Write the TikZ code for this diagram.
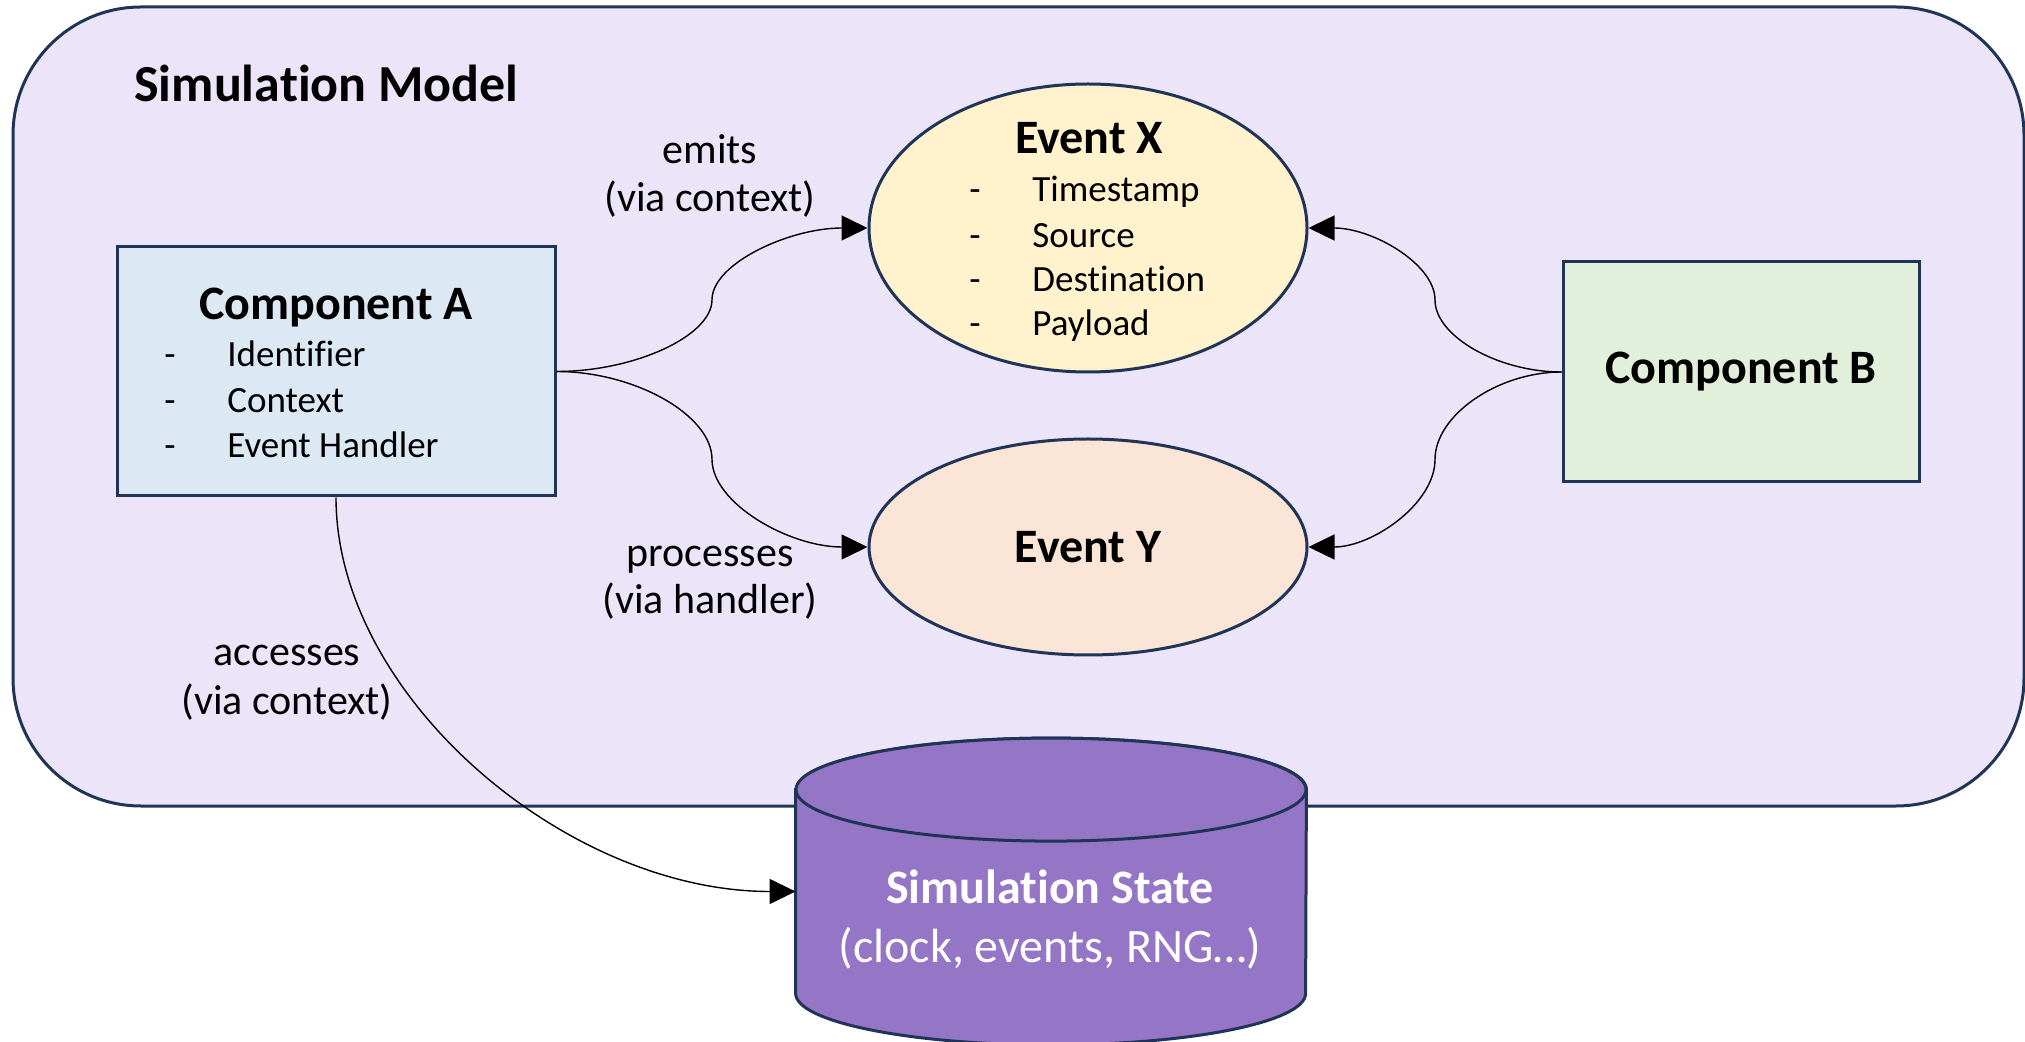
\documentclass[tikz,border=0pt]{standalone}
\usepackage{fontspec}
\setmainfont[Ligatures=NoCommon]{Carlito}
\usetikzlibrary{calc,arrows.meta,shapes.geometric}

\definecolor{framenavy}{HTML}{203458}
\definecolor{modelbg}{HTML}{ECE5F9}
\definecolor{compblue}{HTML}{DDE8F5}
\definecolor{compgreen}{HTML}{E2EFDA}
\definecolor{evyellow}{HTML}{FFF2CC}
\definecolor{evpeach}{HTML}{FBE5D6}
\definecolor{statepurple}{HTML}{9575C6}

\tikzstyle{model}=[rounded corners=64pt, draw=framenavy, line width=1.5pt, fill=modelbg]
\tikzstyle{comp}=[rectangle, draw=framenavy, line width=1.5pt, inner sep=0]
\tikzstyle{event}=[ellipse, draw=framenavy, line width=1.5pt, inner sep=0, minimum width=219pt]
\tikzstyle{store}=[draw=framenavy, line width=1.5pt, fill=statepurple]
\tikzstyle{head}=[font=\fontsize{24}{29}\selectfont\bfseries, inner sep=0]
\tikzstyle{item}=[font=\fontsize{18.5}{22}\selectfont, inner sep=0, anchor=base west]
\tikzstyle{lbl}=[font=\fontsize{21}{25}\selectfont, inner sep=0, anchor=base]
\tikzstyle{link}=[line width=0.7pt, -{Triangle[length=13pt, width=12.5pt]}]

\newcommand{\listentry}[1]{\makebox[31.5pt][l]{-}#1}

\begin{document}
\begin{tikzpicture}[x=0.5pt, y=-0.5pt]
\useasboundingbox (0,0) rectangle (2025,1042);

\draw [model] (13,7) rectangle (2024,806);
\node [anchor=base west, inner sep=0, font=\fontsize{26}{31}\selectfont\bfseries] (title) at (134,102) {Simulation Model};

\node [comp, fill=compblue,  minimum width=219pt, minimum height=124.5pt] (ca) at (336,371.5) {};
\node [comp, fill=compgreen, minimum width=178pt, minimum height=110pt, head] (cb) at (1741,372) {Component B};

\node [event, fill=evyellow, minimum height=144pt] (evx) at (1088,228) {};
\node [event, fill=evpeach,  minimum height=108pt, head] (evy) at (1088,547) {Event Y};

% component A
\node [head, anchor=base] (ca-title) at (336,320) {Component A};
\node [item] (ca-1) at (164,367) {\listentry{Identifier}};
\node [item] (ca-2) at (164,413) {\listentry{Context}};
\node [item] (ca-3) at (164,458) {\listentry{Event Handler}};

% event X
\node [head, anchor=base] (evx-title) at (1089,154) {Event X};
\node [item] (evx-1) at (969,202) {\listentry{Timestamp}};
\node [item] (evx-2) at (969,248) {\listentry{Source}};
\node [item] (evx-3) at (969,292) {\listentry{Destination}};
\node [item] (evx-4) at (969,336) {\listentry{Payload}};

% state store
\node [minimum width=255pt, minimum height=101.5pt, inner sep=0] (st) at (1051,891.5) {};
\draw [store] (st.north west) -- (st.south west)
  arc [start angle=180, end angle=360, x radius=127.5pt, y radius=25.75pt] -- (st.north east)
  arc [start angle=0, end angle=180, x radius=127.5pt, y radius=25.75pt] -- cycle;
\draw [store] (st.north) ellipse [x radius=127.5pt, y radius=25.75pt];
\node [head, anchor=base, text=white] (st-name) at (1050,903) {Simulation State};
\node [head, anchor=base, text=white, font=\fontsize{24}{29}\selectfont\mdseries] (st-info) at (1050,962) {(clock, events, RNG…)};

\node [lbl] (emits)     at (710,164) {emits};
\node [lbl] (emits-via) at (710,212) {(via context)};
\node [lbl] (proc)      at (710,567) {processes};
\node [lbl] (proc-via)  at (710,614) {(via handler)};
\node [lbl] (acc)       at (287,666) {accesses};
\node [lbl] (acc-via)   at (287,715) {(via context)};

\draw [link] (ca.east) .. controls +(78.5,0) and +(0,36) .. ($(ca.east)!.5!(evx.west)$)
  .. controls +(0,-36) and +(-78.5,0) .. (evx.west);
\draw [link] (ca.east) .. controls +(78.5,0) and +(0,-44) .. ($(ca.east)!.5!(evy.west)$)
  .. controls +(0,44) and +(-78.5,0) .. (evy.west);
\draw [link] (cb.west) .. controls +(-64,0) and +(0,36) .. ($(cb.west)!.5!(evx.east)$)
  .. controls +(0,-36) and +(64,0) .. (evx.east);
\draw [link] (cb.west) .. controls +(-64,0) and +(0,-44) .. ($(cb.west)!.5!(evy.east)$)
  .. controls +(0,44) and +(64,0) .. (evy.east);
\draw [link] (ca.south) .. controls +(0,198) and +(-230,0) .. (st.west);

\end{tikzpicture}
\end{document}
